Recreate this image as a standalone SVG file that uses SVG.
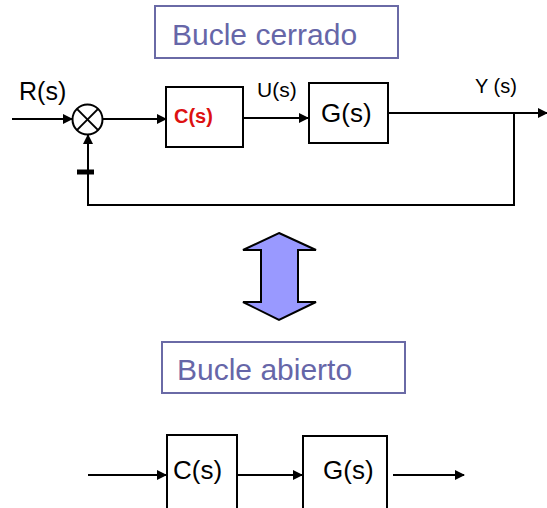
<svg xmlns="http://www.w3.org/2000/svg" width="547" height="508" viewBox="0 0 547 508">
<defs>
<style>
.t{font-family:"Liberation Sans",Arial,sans-serif;fill:#000}
.title{font-family:"Liberation Sans",Arial,sans-serif;fill:#6666a8;font-size:30px}
.tbox{fill:#fff;stroke:#6a6aa6;stroke-width:2}
.box{fill:#fff;stroke:#000;stroke-width:2}
.ln{fill:none;stroke:#000;stroke-width:2}
</style>
<marker id="ah" markerWidth="10" markerHeight="10" refX="9" refY="5" orient="auto" markerUnits="userSpaceOnUse">
<path d="M0,0 L10,5 L0,10 Z" fill="#000"/>
</marker>
</defs>
<rect width="547" height="508" fill="#fff"/>

<g id="title-cerrado">
<rect class="tbox" x="155" y="6" width="243" height="52"/>
<text class="title" x="172" y="45">Bucle cerrado</text>
</g>

<g id="connectors">
<line class="ln" x1="12" y1="119" x2="72" y2="119" marker-end="url(#ah)"/>
<line class="ln" x1="102" y1="119" x2="166" y2="119" marker-end="url(#ah)"/>
<line class="ln" x1="244" y1="118" x2="308" y2="118" marker-end="url(#ah)"/>
<line class="ln" x1="388" y1="113" x2="547" y2="113" marker-end="url(#ah)"/>
<polyline class="ln" points="514,113 514,205 88,205 88,135" marker-end="url(#ah)"/>
<line x1="77" y1="172" x2="94" y2="172" stroke="#000" stroke-width="5"/>
<line class="ln" x1="88" y1="475" x2="166" y2="475" marker-end="url(#ah)"/>
<line class="ln" x1="237" y1="475" x2="302" y2="475" marker-end="url(#ah)"/>
<line class="ln" x1="393" y1="475" x2="464" y2="475" marker-end="url(#ah)"/>
</g>

<g id="R-label"><text class="t" x="19" y="100" font-size="25">R(s)</text></g>

<g id="sum">
<circle cx="87.5" cy="119.5" r="15" fill="#fff" stroke="#000" stroke-width="2"/>
<line class="ln" x1="76.9" y1="108.9" x2="98.1" y2="130.1"/>
<line class="ln" x1="98.1" y1="108.9" x2="76.9" y2="130.1"/>
</g>

<g id="C-closed">
<rect class="box" x="166" y="87" width="77" height="60"/>
<text x="174" y="123" font-family="Liberation Sans,Arial,sans-serif" font-weight="bold" font-size="20" fill="#dd1111">C(s)</text>
</g>

<g id="U-label"><text class="t" x="257" y="97" font-size="21">U(s)</text></g>

<g id="G-closed">
<rect class="box" x="309" y="83" width="79" height="60"/>
<text class="t" x="321" y="122" font-size="26">G(s)</text>
</g>

<g id="Y-label"><text class="t" x="475" y="93" font-size="20">Y (s)</text></g>

<g id="double-arrow">
<path d="M279,233 L316,250 L298,250 L298,302 L316,302 L279,320 L243,302 L261,302 L261,250 L243,250 Z" fill="#9999ff" stroke="#000" stroke-width="2" stroke-linejoin="miter"/>
</g>

<g id="title-abierto">
<rect class="tbox" x="162" y="342" width="243" height="51"/>
<text class="title" x="177" y="380">Bucle abierto</text>
</g>

<g id="C-open">
<rect class="box" x="167" y="435" width="70" height="80"/>
<text class="t" x="173" y="479" font-size="26">C(s)</text>
</g>

<g id="G-open">
<rect class="box" x="303" y="436" width="84" height="80"/>
<text class="t" x="323" y="479" font-size="26">G(s)</text>
</g>
</svg>
